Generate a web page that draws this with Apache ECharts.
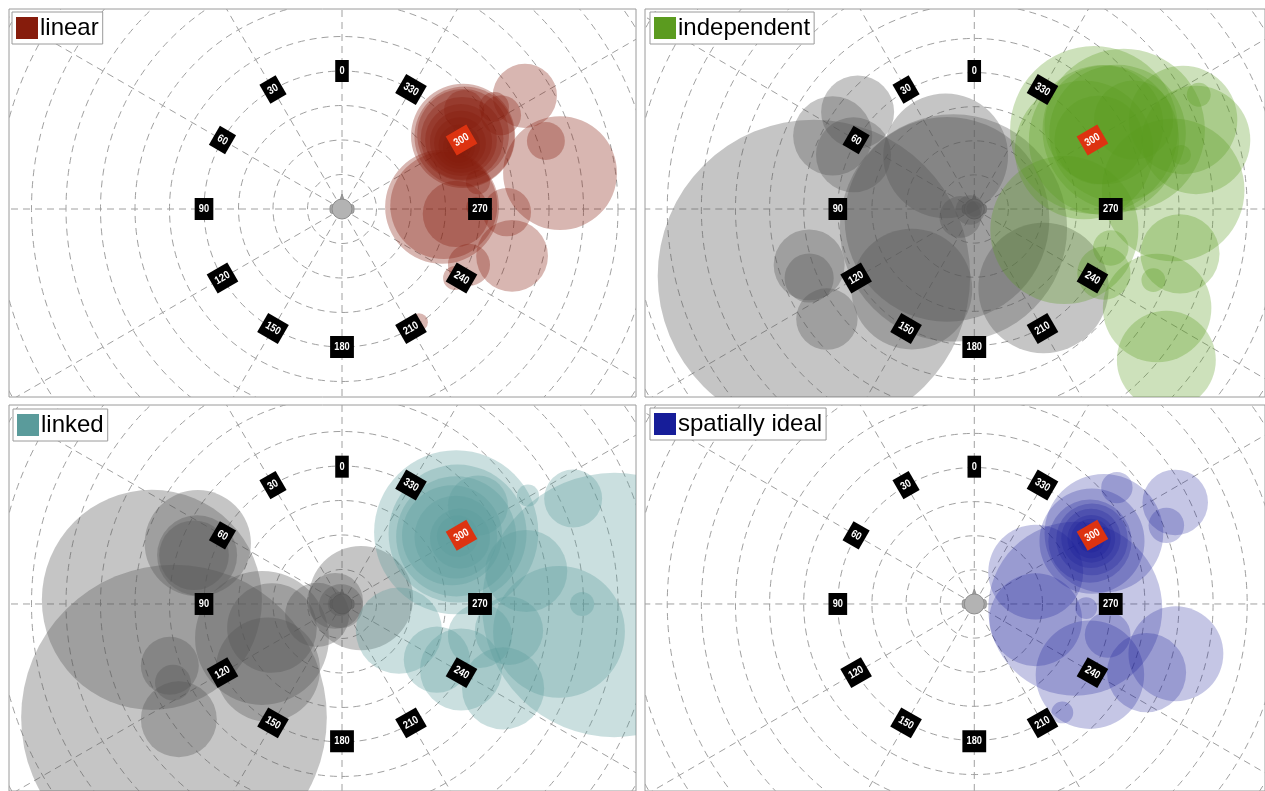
<!DOCTYPE html>
<html>
<head>
<meta charset="utf-8">
<script src="https://cdn.jsdelivr.net/npm/echarts@6/dist/echarts.min.js"></script>
<style>
  html, body { margin: 0; padding: 0; background: #fff; }
  #chart { width: 1265px; height: 791px; }
</style>
</head>
<body>
<div id="chart"></div>
<script>
// Azimuth markers around the listener (degrees, counter-clockwise from straight ahead)
const azimuthLabels = [0, 30, 60, 90, 120, 150, 180, 210, 240, 270, 300, 330];
const targetAzimuth = 300;
const labelRing = 40;
const ringRadii = [10, 20, 30, 40, 50, 60, 70, 80, 90, 100, 110, 120];
const spokeAngles = [0, 30, 60, 90, 120, 150, 180, 210, 240, 270, 300, 330];
const spokeLength = 130;

// Response clusters: [x (right +), y (front +), spread radius]
const linearBubbles = [
  [35.1, 21.2, 15.1], [35.1, 21.5, 13.3], [35.5, 21.0, 14.5], [34.8, 20.5, 12.0],
  [34.5, 20.0, 10.4], [34.5, 19.5, 9.0], [34.2, 19.1, 7.5], [34.0, 18.5, 6.0],
  [33.9, 18.0, 4.6], [34.0, 18.2, 3.5], [33.9, 17.7, 2.3],
  [29.0, 0.6, 16.5], [29.5, 1.0, 15.5], [33.0, -1.4, 9.6],
  [63.2, 10.4, 16.5], [53.0, 32.8, 9.3], [59.1, 19.7, 5.5], [46.1, 27.2, 5.8],
  [49.3, -13.6, 10.4], [47.8, -0.9, 7.0], [36.8, -16.2, 6.1], [32.8, -20.0, 3.5],
  [22.3, -32.8, 2.6], [39.4, 7.8, 3.5], [35.4, 28.7, 5.8], [44.1, 29.6, 4.3],
  [38.9, 0.6, 2.9]
];

const independentGray = [
  [-47.0, -19.4, 45.8], [-8.4, 15.4, 18.3], [-6.1, -5.5, 33.3], [-8.0, -3.0, 30.0],
  [-18.3, -23.2, 17.7],
  [20.3, -22.9, 19.1], [-34.2, 28.1, 10.7], [-41.5, 21.2, 11.6], [-35.4, 15.7, 11.0],
  [-48.4, -16.2, 10.4], [-48.4, -20.0, 7.2], [-43.2, -31.9, 9.0], [-4.1, -2.3, 6.1],
  [-1.2, -0.3, 4.3], [0.0, 0.0, 2.3]
];
const independentBubbles = [
  [43.8, 22.9, 23.8], [35.1, 22.9, 24.6], [32.2, 17.1, 20.3], [38.0, 24.4, 17.4],
  [38.0, 20.0, 22.0], [42.0, 22.0, 20.0],
  [36.5, 20.0, 13.0], [61.2, 25.8, 15.9], [58.3, 5.5, 20.9], [26.4, -6.1, 21.7],
  [60.3, -13.0, 11.6], [53.6, -28.7, 15.9], [56.3, -43.8, 14.5], [38.0, -18.6, 7.8],
  [40.0, -11.3, 5.2], [65.8, 33.1, 3.5], [60.6, 15.7, 2.9], [52.5, -20.6, 3.5],
  [65.0, 20.0, 15.9], [46.7, 25.8, 11.6]
];

const linkedGray = [
  [-55.1, 1.2, 31.9], [-48.7, -33.1, 44.3], [-41.8, 17.7, 15.4], [-42.0, 14.2, 11.6],
  [-42.9, 14.2, 10.1], [-23.2, -9.9, 19.4], [-20.3, -7.0, 13.0], [-21.5, -19.1, 15.1],
  [-49.9, -18.0, 8.4], [-49.0, -22.9, 5.2], [-47.3, -33.6, 11.0], [-7.2, -3.2, 9.3],
  [5.5, 1.7, 15.1], [-2.0, 0.9, 8.1], [-0.3, -0.6, 6.4], [-0.6, 0.0, 3.5]
];
const linkedBubbles = [
  [33.1, 20.9, 23.8], [33.5, 20.5, 20.0], [33.1, 19.7, 17.4], [31.9, 20.0, 14.5],
  [33.0, 19.5, 12.0], [34.2, 19.1, 8.7], [33.5, 19.8, 6.0],
  [78.9, -0.3, 38.3], [62.9, -8.1, 19.1], [67.0, 30.7, 8.4], [53.9, 31.6, 3.2],
  [69.6, 0.0, 3.5], [53.4, 9.6, 11.9], [27.5, -16.2, 9.6], [40.0, -9.3, 9.3],
  [34.5, -19.1, 11.9], [46.7, -24.6, 11.9], [48.4, -7.8, 9.9], [16.5, -7.8, 12.5],
  [39.4, 28.7, 8.7]
];

const idealBubbles = [
  [34.5, 18.3, 15.4], [33.9, 18.3, 12.2], [34.5, 18.8, 10.5], [34.2, 19.1, 8.7],
  [34.3, 19.0, 7.0], [34.2, 19.1, 5.8], [34.2, 19.0, 4.0], [33.9, 18.6, 2.9],
  [34.0, 18.8, 1.8], [38.0, 20.6, 17.4], [29.6, -1.4, 25.5], [18.0, -4.6, 13.6],
  [18.0, 9.3, 13.9], [33.9, -20.6, 15.9], [50.5, -20.0, 11.6], [59.1, -14.5, 13.9],
  [39.1, -9.0, 6.7], [32.8, -1.2, 3.2], [58.9, 29.6, 9.6], [56.3, 22.9, 5.2],
  [41.8, 33.9, 4.6], [25.8, -31.6, 3.2]
];

const panelNames = ['linear', 'independent', 'linked', 'spatially ideal'];
const panelColors = ['#861c0c', '#5b9b1f', '#5a9b9b', '#161d99'];
const panelOpacity = [0.32, 0.3, 0.32, 0.25];
const panelBubbles = [linearBubbles, independentBubbles, linkedBubbles, idealBubbles];
const panelGray = [[], independentGray, linkedGray, []];

// ---- layout / styling ----
const PX_PER_UNIT = 3.45;
const panelRects = [
  { left: 9, top: 9 }, { left: 645, top: 9 },
  { left: 9, top: 405 }, { left: 645, top: 405 }
];
const PANEL_W = 627, PANEL_H = 388, CENTER_DX = 333, CENTER_DY = 200;
const legendPos = [
  { left: 12, top: 12 }, { left: 650, top: 12 },
  { left: 13, top: 409 }, { left: 650, top: 408 }
];
const GRID_STROKE = '#a0a0a0';
const DASH = [7, 5];
const LABEL_FONT = 'bold 11px "Liberation Sans", Arial, sans-serif';

function bubbleRenderer(color, opacity) {
  return function (params, api) {
    const c = api.coord([api.value(0), api.value(1)]);
    const s = api.size([api.value(2), api.value(2)]);
    return {
      type: 'circle',
      shape: { cx: c[0], cy: c[1], r: s[0] },
      style: { fill: color, opacity: opacity }
    };
  };
}

function ringRenderer(params, api) {
  const c = api.coord([0, 0]);
  const r = api.size([api.value(0), 0])[0];
  return {
    type: 'circle', silent: true,
    shape: { cx: c[0], cy: c[1], r: r },
    style: { fill: null, stroke: GRID_STROKE, lineWidth: 1, lineDash: DASH }
  };
}

function spokeRenderer(params, api) {
  const a = api.value(0) * Math.PI / 180;
  const p0 = api.coord([0, 0]);
  const p1 = api.coord([-spokeLength * Math.sin(a), spokeLength * Math.cos(a)]);
  return {
    type: 'line', silent: true,
    shape: { x1: p0[0], y1: p0[1], x2: p1[0], y2: p1[1] },
    style: { stroke: GRID_STROKE, lineWidth: 1, lineDash: DASH }
  };
}

function headRenderer(params, api) {
  const c = api.coord([0, 0]);
  const x = c[0], y = c[1];
  return {
    type: 'group', silent: true,
    children: [
      { type: 'polygon', shape: { points: [[x - 2.5, y - 8], [x, y - 15], [x + 2.5, y - 8]] },
        style: { fill: '#9c9c9c', stroke: '#888', lineWidth: 0.8 } },
      { type: 'rect', shape: { x: x - 12, y: y - 4.5, width: 5, height: 9, r: 2.5 },
        style: { fill: '#a9a9a9', stroke: '#888', lineWidth: 0.8 } },
      { type: 'rect', shape: { x: x + 7, y: y - 4.5, width: 5, height: 9, r: 2.5 },
        style: { fill: '#a9a9a9', stroke: '#888', lineWidth: 0.8 } },
      { type: 'circle', shape: { cx: x, cy: y, r: 10 },
        style: { fill: '#b3b3b3', stroke: '#8c8c8c', lineWidth: 1 } }
    ]
  };
}

// Azimuth tag: black box tilted along the ring, the target one in red
function labelRenderer(params, api) {
  const az = api.value(0);
  const a = az * Math.PI / 180;
  const p = api.coord([-labelRing * Math.sin(a), labelRing * Math.cos(a)]);
  const rot = ((az + 45) % 90) - 45;
  return {
    type: 'text', silent: true,
    x: p[0], y: p[1], rotation: rot * Math.PI / 180, scaleX: 0.84,
    style: {
      text: String(az), fill: '#fff', font: LABEL_FONT,
      align: 'center', verticalAlign: 'middle',
      backgroundColor: az === targetAzimuth ? '#dd3311' : '#000',
      padding: [6, 5, 5, 5]
    }
  };
}

const grids = [], xAxes = [], yAxes = [], series = [], legends = [];
panelNames.forEach((name, i) => {
  const rect = panelRects[i];
  grids.push({
    left: rect.left, top: rect.top, width: PANEL_W, height: PANEL_H,
    show: true, borderColor: '#9a9a9a', borderWidth: 1, backgroundColor: '#fff'
  });
  xAxes.push({
    type: 'value', gridIndex: i, show: false,
    min: -CENTER_DX / PX_PER_UNIT, max: (PANEL_W - CENTER_DX) / PX_PER_UNIT
  });
  yAxes.push({
    type: 'value', gridIndex: i, show: false,
    min: -(PANEL_H - CENTER_DY) / PX_PER_UNIT, max: CENTER_DY / PX_PER_UNIT
  });
  const common = { type: 'custom', xAxisIndex: i, yAxisIndex: i, clip: true, animation: false };
  series.push(Object.assign({}, common, {
    name: 'rings' + i, z: 1, renderItem: ringRenderer,
    data: ringRadii.map(r => [r, 0])
  }));
  series.push(Object.assign({}, common, {
    name: 'spokes' + i, z: 1, renderItem: spokeRenderer,
    data: spokeAngles.map(a => [a, 0])
  }));
  series.push(Object.assign({}, common, {
    name: 'head' + i, z: 2, renderItem: headRenderer, data: [[0, 0]]
  }));
  if (panelGray[i].length) {
    series.push(Object.assign({}, common, {
      name: 'other' + i, z: 3, renderItem: bubbleRenderer('#555555', 0.34),
      itemStyle: { color: '#555555' }, data: panelGray[i]
    }));
  }
  series.push(Object.assign({}, common, {
    name: name, z: 4, renderItem: bubbleRenderer(panelColors[i], panelOpacity[i]),
    itemStyle: { color: panelColors[i] }, data: panelBubbles[i]
  }));
  series.push(Object.assign({}, common, {
    name: 'labels' + i, z: 5, renderItem: labelRenderer,
    data: azimuthLabels.map(a => [a, 0])
  }));
  legends.push({
    data: [name], left: legendPos[i].left, top: legendPos[i].top,
    icon: 'rect', itemWidth: 22, itemHeight: 22, padding: [4, 4, 4, 4],
    borderColor: '#9a9a9a', borderWidth: 1, backgroundColor: '#fff',
    selectedMode: false, z: 10,
    textStyle: { fontSize: 24, color: '#000', fontFamily: '"Liberation Sans", Arial, sans-serif', padding: [0, 0, 0, -3] }
  });
});

const chart = echarts.init(document.getElementById('chart'), null, { renderer: 'canvas' });
chart.setOption({
  animation: false,
  grid: grids, xAxis: xAxes, yAxis: yAxes,
  legend: legends, series: series
});
</script>
</body>
</html>
